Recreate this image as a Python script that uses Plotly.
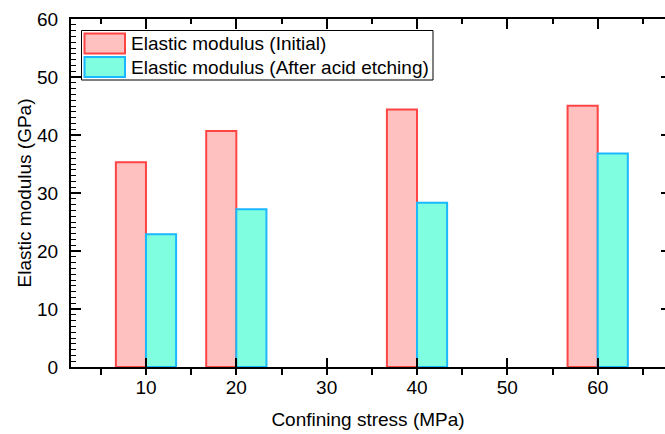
import plotly.graph_objects as go

# Data
stress = [10, 20, 40, 60]
modulus_initial = [35.3, 40.7, 44.4, 45.05]
modulus_after = [22.9, 27.2, 28.3, 36.8]
name_initial = "Elastic modulus (Initial)"
name_after = "Elastic modulus (After acid etching)"
x_ticks = [10, 20, 30, 40, 50, 60]
y_ticks = [0, 10, 20, 30, 40, 50, 60]

FONT = "Liberation Sans, Arial, sans-serif"
PINK_FILL = "#ffc0c0"
PINK_EDGE = "#ff4444"
AQUA_FILL = "#80ffe0"
AQUA_EDGE = "#1ab8ff"

fig = go.Figure()
fig.add_trace(go.Bar(x=stress, y=modulus_initial, name=name_initial,
                     marker=dict(color=PINK_FILL, line=dict(color=PINK_EDGE, width=2))))
fig.add_trace(go.Bar(x=stress, y=modulus_after, name=name_after,
                     marker=dict(color=AQUA_FILL, line=dict(color=AQUA_EDGE, width=2))))
# invisible trace to host the mirrored axes
fig.add_trace(go.Scatter(x=[None], y=[None], xaxis="x2", yaxis="y2",
                         showlegend=False, hoverinfo="skip"))

xr = [1.7, 67.45]
yr = [0, 60]

fig.update_layout(
    width=665, height=434,
    margin=dict(l=71, r=0, t=19, b=67),
    paper_bgcolor="white", plot_bgcolor="white",
    barmode="group", bargap=1/3, bargroupgap=0,
    showlegend=False,
    font=dict(family=FONT, size=19, color="black"),
    xaxis=dict(range=xr, tickvals=x_ticks, ticks="inside", ticklen=9, tickwidth=1.5,
               tickcolor="black", showline=True, linecolor="black", linewidth=2,
               showgrid=False, zeroline=False, ticklabelstandoff=2,
               minor=dict(ticks="outside", dtick=5, tick0=5, ticklen=6, tickwidth=1.5,
                          tickcolor="black", showgrid=False),
               title=dict(text="Confining stress (MPa)", font=dict(size=19), standoff=16),
               tickfont=dict(size=19)),
    yaxis=dict(range=yr, tickvals=y_ticks, ticks="inside", ticklen=10, tickwidth=1.5,
               tickcolor="black", showline=True, linecolor="black", linewidth=2,
               showgrid=False, zeroline=False, ticklabelstandoff=7,
               minor=dict(ticks="inside", dtick=1, ticklen=5, tickwidth=1,
                          tickcolor="black", showgrid=False),
               title=dict(text="Elastic modulus (GPa)", font=dict(size=19), standoff=0),
               tickfont=dict(size=19)),
    xaxis2=dict(range=xr, overlaying="x", side="top", anchor="y2",
                tickvals=x_ticks, ticks="inside", ticklen=10, tickwidth=1.5,
                tickcolor="black", showticklabels=False, showline=True,
                linecolor="black", linewidth=1.5, showgrid=False, zeroline=False,
                minor=dict(ticks="inside", dtick=5, tick0=5, ticklen=5, tickwidth=1.5,
                           tickcolor="black", showgrid=False)),
    yaxis2=dict(range=yr, overlaying="y", side="right", anchor="x2",
                tickvals=y_ticks, ticks="inside", ticklen=4, tickwidth=1.5,
                tickcolor="black", showticklabels=False, showline=True,
                linecolor="black", linewidth=1.5, showgrid=False, zeroline=False),
)

# Custom legend (box, swatches, labels) in plot-area relative coordinates
def px_x(p):
    return (p - 71) / 594.0

def px_y(p):
    return (367 - p) / 348.0

fig.add_shape(type="rect", xref="paper", yref="paper",
              x0=px_x(81.5), x1=px_x(433), y0=px_y(80), y1=px_y(30.5),
              line=dict(color="black", width=1), fillcolor="white", layer="above")
entries = [(name_initial, PINK_FILL, PINK_EDGE, 33.5, 53.5),
           (name_after, AQUA_FILL, AQUA_EDGE, 57, 77)]
for label, fill, edge, top, bot in entries:
    fig.add_shape(type="rect", xref="paper", yref="paper",
                  x0=px_x(84.5), x1=px_x(125), y0=px_y(bot), y1=px_y(top),
                  line=dict(color=edge, width=2), fillcolor=fill, layer="above")
    fig.add_annotation(xref="paper", yref="paper", x=px_x(129), y=px_y((top + bot) / 2),
                       text=label, showarrow=False, xanchor="left", yanchor="middle",
                       font=dict(family=FONT, size=19, color="black"))

fig.write_html("out.html")
